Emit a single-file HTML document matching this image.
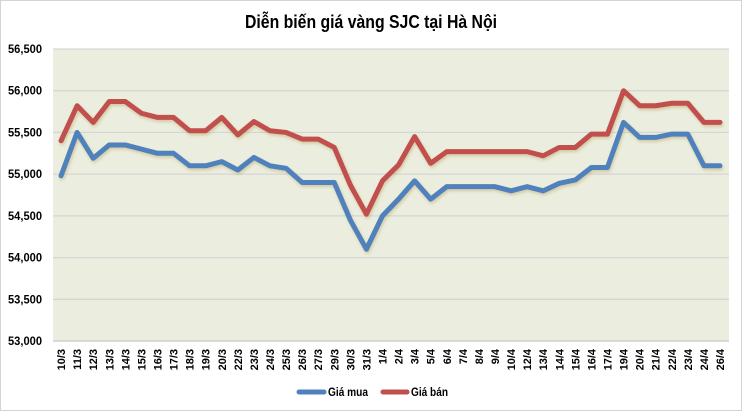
<!DOCTYPE html>
<html><head><meta charset="utf-8"><style>
html,body{margin:0;padding:0;background:#fff;}
svg{display:block;}
text{font-family:"Liberation Sans",sans-serif;fill:#000;}
</style></head><body>
<svg width="743" height="412" viewBox="0 0 743 412" xmlns="http://www.w3.org/2000/svg">
<defs>
<filter id="sh" x="-5%" y="-10%" width="110%" height="130%">
<feGaussianBlur in="SourceAlpha" stdDeviation="1.6"/>
<feOffset dx="1.2" dy="2.2" result="b"/>
<feFlood flood-color="#b59b57" flood-opacity="0.45"/>
<feComposite in2="b" operator="in" result="s"/>
<feMerge><feMergeNode in="s"/><feMergeNode in="SourceGraphic"/></feMerge>
</filter>
</defs>
<rect x="0.5" y="0.5" width="741" height="410" fill="#fff" stroke="#d4d4d4" stroke-width="1"/>
<text x="371" y="28" text-anchor="middle" font-size="18" font-weight="bold" textLength="252" lengthAdjust="spacingAndGlyphs">Diễn biến giá vàng SJC tại Hà Nội</text>
<rect x="53" y="49" width="676" height="292" fill="#ebeedf"/>
<g stroke="#d6d6d6" stroke-width="1.3">
<line x1="53" x2="729" y1="49" y2="49"/>
<line x1="53" x2="729" y1="90.7" y2="90.7"/>
<line x1="53" x2="729" y1="132.4" y2="132.4"/>
<line x1="53" x2="729" y1="174.1" y2="174.1"/>
<line x1="53" x2="729" y1="215.9" y2="215.9"/>
<line x1="53" x2="729" y1="257.6" y2="257.6"/>
<line x1="53" x2="729" y1="299.3" y2="299.3"/>
</g>
<line x1="53" x2="729" y1="341" y2="341" stroke="#cfcfcf" stroke-width="1.5"/>
<g font-size="12" font-weight="bold" text-anchor="end">
<text x="42" y="53" textLength="34" lengthAdjust="spacingAndGlyphs">56,500</text>
<text x="42" y="94.7" textLength="34" lengthAdjust="spacingAndGlyphs">56,000</text>
<text x="42" y="136.4" textLength="34" lengthAdjust="spacingAndGlyphs">55,500</text>
<text x="42" y="178.1" textLength="34" lengthAdjust="spacingAndGlyphs">55,000</text>
<text x="42" y="219.9" textLength="34" lengthAdjust="spacingAndGlyphs">54,500</text>
<text x="42" y="261.6" textLength="34" lengthAdjust="spacingAndGlyphs">54,000</text>
<text x="42" y="303.3" textLength="34" lengthAdjust="spacingAndGlyphs">53,500</text>
<text x="42" y="345" textLength="34" lengthAdjust="spacingAndGlyphs">53,000</text>
</g>
<g filter="url(#sh)">
<g transform="translate(53,341) scale(16.0714,-0.0834286) translate(0.5,-53000)" fill="none" stroke-linejoin="round" stroke-linecap="round">
<polyline vector-effect="non-scaling-stroke" stroke="#4f81bd" stroke-width="5" points="0,54980 1,55500 2,55190 3,55350 4,55350 5,55300 6,55250 7,55250 8,55100 9,55100 10,55150 11,55050 12,55200 13,55100 14,55070 15,54900 16,54900 17,54900 18,54450 19,54100 20,54500 21,54700 22,54920 23,54700 24,54850 25,54850 26,54850 27,54850 28,54800 29,54850 30,54800 31,54890 32,54930 33,55080 34,55080 35,55620 36,55440 37,55440 38,55480 39,55480 40,55100 41,55100"/>
<polyline vector-effect="non-scaling-stroke" stroke="#c0504d" stroke-width="5" points="0,55400 1,55820 2,55620 3,55870 4,55870 5,55730 6,55680 7,55680 8,55520 9,55520 10,55680 11,55470 12,55630 13,55520 14,55500 15,55420 16,55420 17,55320 18,54870 19,54520 20,54920 21,55110 22,55450 23,55130 24,55270 25,55270 26,55270 27,55270 28,55270 29,55270 30,55220 31,55320 32,55320 33,55480 34,55480 35,56000 36,55820 37,55820 38,55850 39,55850 40,55620 41,55620"/>
</g>
</g>
<g font-size="11" font-weight="bold" text-anchor="end">
<text transform="translate(65,349) rotate(-90)">10/3</text>
<text transform="translate(81.1,349) rotate(-90)">11/3</text>
<text transform="translate(97.2,349) rotate(-90)">12/3</text>
<text transform="translate(113.3,349) rotate(-90)">13/3</text>
<text transform="translate(129.3,349) rotate(-90)">14/3</text>
<text transform="translate(145.4,349) rotate(-90)">15/3</text>
<text transform="translate(161.5,349) rotate(-90)">16/3</text>
<text transform="translate(177.5,349) rotate(-90)">17/3</text>
<text transform="translate(193.6,349) rotate(-90)">18/3</text>
<text transform="translate(209.7,349) rotate(-90)">19/3</text>
<text transform="translate(225.8,349) rotate(-90)">20/3</text>
<text transform="translate(241.8,349) rotate(-90)">22/3</text>
<text transform="translate(257.9,349) rotate(-90)">23/3</text>
<text transform="translate(274,349) rotate(-90)">24/3</text>
<text transform="translate(290,349) rotate(-90)">25/3</text>
<text transform="translate(306.1,349) rotate(-90)">26/3</text>
<text transform="translate(322.2,349) rotate(-90)">27/3</text>
<text transform="translate(338.3,349) rotate(-90)">29/3</text>
<text transform="translate(354.3,349) rotate(-90)">30/3</text>
<text transform="translate(370.4,349) rotate(-90)">31/3</text>
<text transform="translate(386.5,349) rotate(-90)">1/4</text>
<text transform="translate(402.5,349) rotate(-90)">2/4</text>
<text transform="translate(418.6,349) rotate(-90)">3/4</text>
<text transform="translate(434.7,349) rotate(-90)">5/4</text>
<text transform="translate(450.8,349) rotate(-90)">6/4</text>
<text transform="translate(466.8,349) rotate(-90)">7/4</text>
<text transform="translate(482.9,349) rotate(-90)">8/4</text>
<text transform="translate(499,349) rotate(-90)">9/4</text>
<text transform="translate(515,349) rotate(-90)">10/4</text>
<text transform="translate(531.1,349) rotate(-90)">12/4</text>
<text transform="translate(547.2,349) rotate(-90)">13/4</text>
<text transform="translate(563.3,349) rotate(-90)">14/4</text>
<text transform="translate(579.3,349) rotate(-90)">15/4</text>
<text transform="translate(595.4,349) rotate(-90)">16/4</text>
<text transform="translate(611.5,349) rotate(-90)">17/4</text>
<text transform="translate(627.5,349) rotate(-90)">19/4</text>
<text transform="translate(643.6,349) rotate(-90)">20/4</text>
<text transform="translate(659.7,349) rotate(-90)">21/4</text>
<text transform="translate(675.8,349) rotate(-90)">22/4</text>
<text transform="translate(691.8,349) rotate(-90)">23/4</text>
<text transform="translate(707.9,349) rotate(-90)">24/4</text>
<text transform="translate(724,349) rotate(-90)">26/4</text>
</g>
<line x1="299" x2="324" y1="392" y2="392" stroke="#4f81bd" stroke-width="5" stroke-linecap="round"/>
<text x="328" y="396" font-size="11.5" font-weight="bold" textLength="40" lengthAdjust="spacingAndGlyphs">Giá mua</text>
<line x1="383" x2="407" y1="392" y2="392" stroke="#c0504d" stroke-width="5" stroke-linecap="round"/>
<text x="411" y="396" font-size="11.5" font-weight="bold" textLength="37" lengthAdjust="spacingAndGlyphs">Giá bán</text>
</svg>
</body></html>
